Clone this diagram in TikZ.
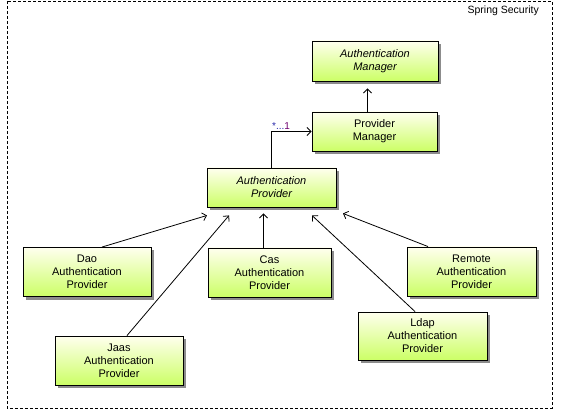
\documentclass[tikz,border=0pt]{standalone}
\usepackage{fontspec}
\setmainfont{Liberation Sans}
\usetikzlibrary{arrows.meta,calc,positioning,shadows}
\definecolor{boxtop}{RGB}{255,255,238}
\definecolor{boxbot}{RGB}{204,255,102}
\definecolor{multA}{RGB}{40,40,170}
\definecolor{multB}{RGB}{110,0,110}
\tikzset{
  cls/.style={draw, line width=0.9pt, top color=boxtop, bottom color=boxbot,
    align=center, inner sep=0pt, minimum width=128pt, minimum height=49pt,
    font=\fontsize{11}{13}\selectfont,
    drop shadow={shadow xshift=3pt, shadow yshift=-3pt, fill=black!45, opacity=1}},
  abstr/.style={cls, minimum height=40pt, font=\fontsize{11}{13}\selectfont\itshape}, % abstract class
  link/.style={-{Straight Barb[length=4pt,width=8pt]}, line width=0.8pt},
  pkg/.style={draw, line width=0.8pt, dash pattern=on 3pt off 2pt}
}

\begin{document}
\begin{tikzpicture}[x=1pt, y=-1pt]
  \useasboundingbox (0,0) rectangle (565,414);
  % package frame
  \draw[pkg] (7,1) rectangle (552,408);
  \node[anchor=north east, font=\fontsize{10.5}{12}\selectfont, inner sep=0pt] (pkgName) at (539,6) {Spring Security};
  % managers
  \node[abstr, minimum width=126pt] (authMgr) at (375,61) {Authentication\\Manager};
  \node[cls, minimum width=125pt, minimum height=39pt] (provMgr) at (374.5,131.5) {Provider\\Manager};
  \node[abstr, minimum width=129pt, minimum height=39pt] (authProv) at (271.5,187.5) {Authentication\\Provider};
  % providers
  \node[cls] (dao) at (87,272) {Dao\\Authentication\\Provider};
  \node[cls, minimum width=123pt] (cas) at (269.5,272.5) {Cas\\Authentication\\Provider};
  \node[cls, minimum width=129pt] (remote) at (471.5,271.5) {Remote\\Authentication\\Provider};
  \node[cls] (jaas) at (119,360.5) {Jaas\\Authentication\\Provider};
  \node[cls, minimum width=129pt, minimum height=48pt] (ldap) at (422.5,336) {Ldap\\Authentication\\Provider};
  % arrow ends below the abstract provider
  \coordinate (tDao) at ($(authProv.south)+(-64.5,8)$);
  \coordinate (tJaas) at ($(authProv.south)+(-42.5,8)$);
  \coordinate (tCas) at ($(authProv.south)+(-8,6)$);
  \coordinate (tLdap) at ($(authProv.south)+(40.5,8)$);
  \coordinate (tRemote) at ($(authProv.south)+(71.5,6)$);
  % connectors
  \draw[link, shorten >=7pt] ([xshift=-7pt]provMgr.north) -- ([xshift=-7pt]provMgr.north |- authMgr.south);
  \draw[link] (authProv.north) |- (provMgr.west)
    node[pos=0.62, above, font=\fontsize{10}{12}\selectfont, inner sep=2pt] (mult) {\textcolor{multA}{*...}\textcolor{multB}{1}};
  \draw[link] ([xshift=15pt]dao.north) -- (tDao);
  \draw[link] ([xshift=8pt]jaas.north) -- (tJaas);
  \draw[link] ([xshift=-6pt]cas.north) -- (tCas);
  \draw[link] ([xshift=-7.5pt]ldap.north) -- (tLdap);
  \draw[link] ([xshift=-43.5pt]remote.north) -- (tRemote);
\end{tikzpicture}
\end{document}
